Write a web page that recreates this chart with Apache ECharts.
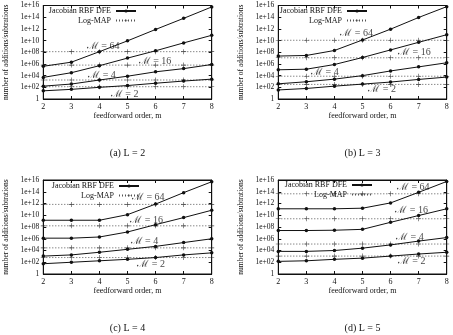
<!DOCTYPE html>
<html>
<head>
<meta charset="utf-8">
<script src="https://cdn.jsdelivr.net/npm/echarts@6/dist/echarts.min.js"></script>
<style>
html, body { margin: 0; padding: 0; background: #fff; }
#chart { width: 453px; height: 335px; }
</style>
</head>
<body>
<div id="chart"></div>
<script>
// feedforward order m
const orders = [2, 3, 4, 5, 6, 7, 8];
const mLabels = ['\u2133 = 64', '\u2133 = 16', '\u2133 = 4', '\u2133 = 2'];
const captions = ['(a) L = 2', '(b) L = 3', '(c) L = 4', '(d) L = 5'];

// Jacobian RBF DFE, log10 of the count, rows M = 64, 16, 4, 2
const jacobianL2 = [
    [5.6, 6.3, 8.1, 9.95, 11.9, 13.8, 15.75],
    [3.7, 4.5, 5.7, 7.0, 8.25, 9.6, 10.9],
    [2.2, 2.56, 3.25, 3.9, 4.65, 5.2, 5.9],
    [1.4, 1.65, 2.0, 2.3, 2.7, 3.07, 3.4]
];
const jacobianL3 = [
    [7.35, 7.45, 8.3, 10.1, 11.95, 13.95, 15.8],
    [5.0, 5.1, 5.9, 7.1, 8.4, 9.7, 11.0],
    [2.6, 2.95, 3.4, 4.0, 4.8, 5.5, 6.2],
    [1.55, 1.8, 2.2, 2.55, 2.9, 3.35, 3.75]
];
const jacobianL4 = [
    [9.15, 9.15, 9.15, 10.1, 11.9, 13.85, 15.7],
    [6.1, 6.1, 6.3, 7.15, 8.4, 9.6, 10.85],
    [3.05, 3.25, 3.7, 4.2, 4.7, 5.35, 6.0],
    [1.75, 2.0, 2.25, 2.5, 2.8, 3.25, 3.6]
];
const jacobianL5 = [
    [11.1, 11.1, 11.1, 11.2, 12.1, 13.9, 15.75],
    [7.4, 7.4, 7.45, 7.6, 8.8, 9.95, 11.1],
    [3.85, 3.85, 4.0, 4.4, 4.95, 5.6, 6.2],
    [2.15, 2.25, 2.5, 2.7, 3.05, 3.4, 3.7]
];

// Log-MAP, log10 of the count (flat in m), M = 64, 16, 4, 2
const logMapL2 = [8.1, 5.8, 3.25, 2.1];
const logMapL3 = [10.05, 7.05, 3.9, 2.5];
const logMapL4 = [11.85, 8.2, 4.45, 2.8];
const logMapL5 = [13.65, 9.4, 5.1, 3.05];

const jacobian = [jacobianL2, jacobianL3, jacobianL4, jacobianL5];
const logMap = [logMapL2, logMapL3, logMapL4, logMapL5];

// where the M = ... labels sit, in (m, log10) coordinates
const labelSpots = [
    [[4.13, 9.05], [5.98, 6.5], [4.09, 4.1], [4.9, 0.85]],
    [[4.79, 11.2], [6.85, 7.97], [3.66, 4.5], [5.7, 1.65]],
    [[5.74, 13.0], [5.68, 9.2], [5.6, 5.6], [5.84, 1.65]],
    [[6.81, 14.7], [6.75, 10.8], [6.69, 6.3], [6.75, 2.1]]
];

const font = 'Liberation Serif';
const ink = '#111';

const panels = [
    { left: 43.3, top: 5.5, height: 93.5, legendRight: 316, legendTop: 7 },
    { left: 278.3, top: 5.5, height: 93.5, legendRight: 85, legendTop: 7 },
    { left: 43.3, top: 180, height: 94, legendRight: 313, legendTop: 182 },
    { left: 278.3, top: 180, height: 94, legendRight: 80, legendTop: 181 }
];

function expLabel(v) {
    const e = Math.round(Math.log10(v));
    return e === 0 ? '1' : '1e+' + String(e).padStart(2, '0');
}

const chart = echarts.init(document.getElementById('chart'));

const grid = [], xAxis = [], yAxis = [], series = [], legend = [], graphic = [];

panels.forEach(function (p, i) {
    grid.push({ left: p.left, top: p.top, width: 168.4, height: p.height, show: false });

    const tick = { show: true, inside: true, length: 3, lineStyle: { color: ink, width: 1 } };
    const line = { show: true, lineStyle: { color: ink, width: 1 } };

    xAxis.push({
        type: 'value', gridIndex: i, min: 2, max: 8, interval: 1,
        name: 'feedforward order, m', nameLocation: 'middle', nameGap: 13,
        nameTextStyle: { fontFamily: font, fontSize: 8, color: ink },
        axisLine: line, axisTick: tick, splitLine: { show: false },
        axisLabel: { fontFamily: font, fontSize: 8, color: ink, margin: 4 }
    });
    xAxis.push({
        type: 'value', gridIndex: i, min: 2, max: 8, interval: 1, position: 'top',
        axisLine: line, axisTick: tick, splitLine: { show: false },
        axisLabel: { show: false }
    });
    yAxis.push({
        type: 'log', logBase: 10, gridIndex: i, min: 1, max: 1e16, interval: 2,
        name: 'number of additions/subtrations', nameLocation: 'middle', nameGap: 33,
        nameTextStyle: { fontFamily: font, fontSize: 7.5, color: ink },
        axisLine: line, axisTick: tick, splitLine: { show: false },
        axisLabel: { fontFamily: font, fontSize: 7.5, color: ink, margin: 4, formatter: expLabel }
    });
    yAxis.push({
        type: 'log', logBase: 10, gridIndex: i, min: 1, max: 1e16, interval: 2, position: 'right',
        axisLine: line, axisTick: tick, splitLine: { show: false },
        axisLabel: { show: false }
    });

    for (let k = 0; k < 4; k++) {
        series.push({
            name: 'Jacobian RBF DFE', type: 'line', xAxisIndex: 2 * i, yAxisIndex: 2 * i,
            data: orders.map(function (m, j) { return [m, Math.pow(10, jacobian[i][k][j])]; }),
            symbol: 'circle', symbolSize: 3.5,
            lineStyle: { color: ink, width: 1 }, itemStyle: { color: ink },
            animation: false, z: 3
        });
        series.push({
            name: 'Log-MAP', type: 'line', xAxisIndex: 2 * i, yAxisIndex: 2 * i,
            data: orders.map(function (m) { return [m, Math.pow(10, logMap[i][k])]; }),
            symbol: 'path://M0,4.4H10V5.6H0Z M4.4,0H5.6V10H4.4Z', symbolSize: 5,
            lineStyle: { color: '#555', width: 1, type: [1, 2] }, itemStyle: { color: '#444' },
            animation: false, z: 2
        });
    }

    series.push({
        type: 'scatter', xAxisIndex: 2 * i, yAxisIndex: 2 * i, silent: true, animation: false,
        symbolSize: 0, z: 5,
        data: labelSpots[i].map(function (s, k) { return { value: [s[0], Math.pow(10, s[1])], name: mLabels[k] }; }),
        label: {
            show: true, position: 'inside', formatter: '{b}',
            fontFamily: font, fontSize: 10, color: ink
        }
    });

    legend.push({
        data: ['Jacobian RBF DFE', 'Log-MAP'], orient: 'vertical', align: 'right',
        right: p.legendRight, top: p.legendTop, padding: 0,
        itemWidth: 20, itemHeight: 4, itemGap: 1.5,
        textStyle: { fontFamily: font, fontSize: 8, color: ink, lineHeight: 6 },
        selectedMode: false
    });

    graphic.push({
        type: 'rect', silent: true, z: 10,
        shape: { x: p.left, y: p.top, width: 168.4, height: p.height },
        style: { fill: 'none', stroke: ink, lineWidth: 1 }
    });
    graphic.push({
        type: 'text', silent: true,
        x: p.left + 84.2, y: p.top + p.height + 54,
        style: { text: captions[i], fontFamily: font, fontSize: 10, fill: ink, textAlign: 'center', textVerticalAlign: 'middle' }
    });
});

chart.setOption({
    backgroundColor: '#fff',
    animation: false,
    grid: grid,
    xAxis: xAxis,
    yAxis: yAxis,
    legend: legend,
    series: series,
    graphic: graphic
});

window.addEventListener('resize', function () {
    chart.resize();
});
</script>
</body>
</html>
